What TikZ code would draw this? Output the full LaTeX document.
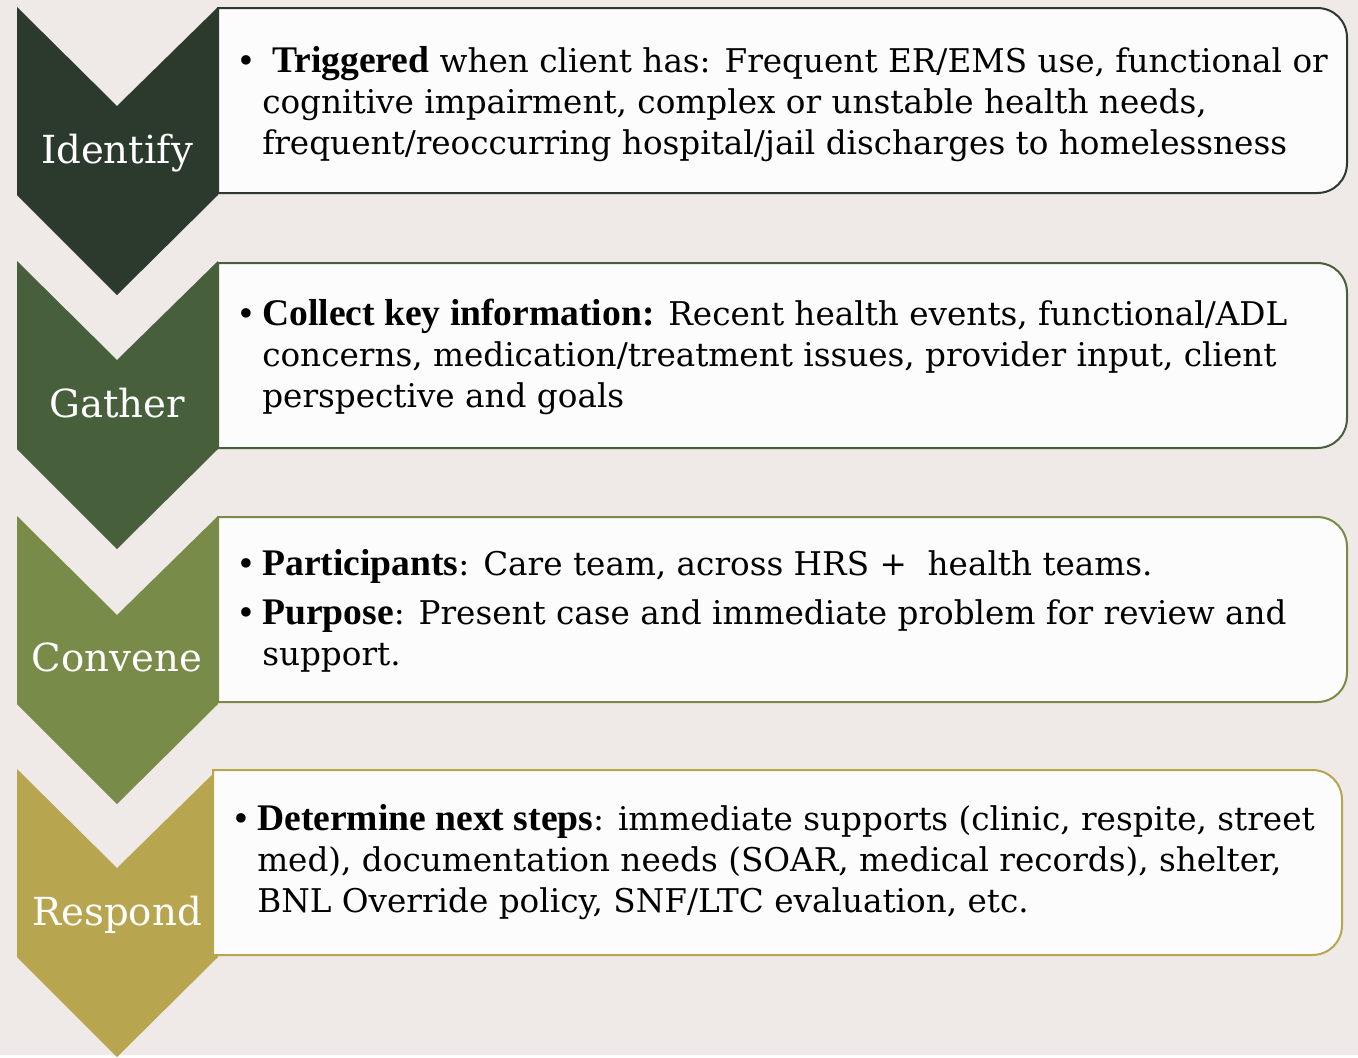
\documentclass[tikz,border=0pt]{standalone}
\usepackage{fontspec}
\setmainfont{DejaVu Serif}[BoldFont={Liberation Serif Bold}, BoldFeatures={Scale=1.15}]

\definecolor{bgcol}{HTML}{EFEAE7}
\definecolor{boxfill}{HTML}{FCFCFC}
\definecolor{idcol}{HTML}{2C3A2E}
\definecolor{gacol}{HTML}{475F3B}
\definecolor{cocol}{HTML}{788B48}
\definecolor{recol}{HTML}{B7A64F}

\tikzset{
  stepbox/.style={fill=boxfill, line width=1.5pt},
  lab/.style={anchor=base, text=white, inner sep=0pt, font=\fontsize{29}{34}\selectfont},
  txt/.style={anchor=base west, inner sep=0pt, font=\fontsize{24.5}{30.75}\selectfont}
}

\begin{document}
\begin{tikzpicture}[x=0.75pt,y=-0.75pt]
        \fill[bgcol] (0,0) rectangle (1358,1055);
        % chevrons
        \fill[idcol] (17,7) -- ++(100,99) -- ++(101,-99) -- ++(0,188) -- ++(-101,100) -- ++(-100,-100) -- cycle;
        \fill[gacol] (17,261) -- ++(100,99) -- ++(101,-99) -- ++(0,188) -- ++(-101,100) -- ++(-100,-100) -- cycle;
        \fill[cocol] (17,516) -- ++(100,99) -- ++(101,-99) -- ++(0,188) -- ++(-101,100) -- ++(-100,-100) -- cycle;
        \fill[recol] (17,769) -- ++(100,99) -- ++(101,-99) -- ++(0,188) -- ++(-101,100) -- ++(-100,-100) -- cycle;
        % boxes
        \draw[stepbox, draw=idcol] (218,8) -- (1317,8) .. controls (1334,8) and (1347,21) .. (1347,38) -- (1347,163) .. controls (1347,180) and (1334,193) .. (1317,193) -- (218,193) -- cycle;
        \draw[stepbox, draw=gacol] (218,263) -- (1317,263) .. controls (1334,263) and (1347,276) .. (1347,293) -- (1347,418) .. controls (1347,435) and (1334,448) .. (1317,448) -- (218,448) -- cycle;
        \draw[stepbox, draw=cocol] (218,517) -- (1317,517) .. controls (1334,517) and (1347,530) .. (1347,547) -- (1347,672) .. controls (1347,689) and (1334,702) .. (1317,702) -- (218,702) -- cycle;
        \draw[stepbox, draw=recol] (213,770) -- (1312,770) .. controls (1329,770) and (1342,783) .. (1342,800) -- (1342,925) .. controls (1342,942) and (1329,955) .. (1312,955) -- (213,955) -- cycle;
        % labels
        \node[lab] (identify) at (117,163) {Identify};
        \node[lab] (gather) at (117,417) {Gather};
        \node[lab] (convene) at (117,671) {Convene};
        \node[lab] (respond) at (117,925) {Respond};
        % texts
        \node[txt] (idtxt) at (236,72) {\begin{tabular}[t]{@{}p{19.5pt}@{}l@{}}
            \textbullet & \hspace*{0.3em}\textbf{Triggered} when client has: Frequent ER/EMS use, functional or\\
            & cognitive impairment, complex or unstable health needs,\\
            & frequent/reoccurring hospital/jail discharges to homelessness
          \end{tabular}};
        \node[txt] (gatxt) at (236,325) {\begin{tabular}[t]{@{}p{19.5pt}@{}l@{}}
            \textbullet & \textbf{Collect key information:} Recent health events, functional/ADL\\
            & concerns, medication/treatment issues, provider input, client\\
            & perspective and goals
          \end{tabular}};
        \node[txt] (cotxt) at (236,575) {\begin{tabular}[t]{@{}p{19.5pt}@{}l@{}}
            \textbullet & \textbf{Participants}: Care team, across HRS +~ health teams.\\[6pt]
            \textbullet & \textbf{Purpose}: Present case and immediate problem for review and\\
            & support.
          \end{tabular}};
        \node[txt] (retxt) at (231,830) {\begin{tabular}[t]{@{}p{19.5pt}@{}l@{}}
            \textbullet & \textbf{Determine next steps}: immediate supports (clinic, respite, street\\
            & med), documentation needs (SOAR, medical records), shelter,\\
            & BNL Override policy, SNF/LTC evaluation, etc.
          \end{tabular}};
    \end{tikzpicture}
\end{document}
